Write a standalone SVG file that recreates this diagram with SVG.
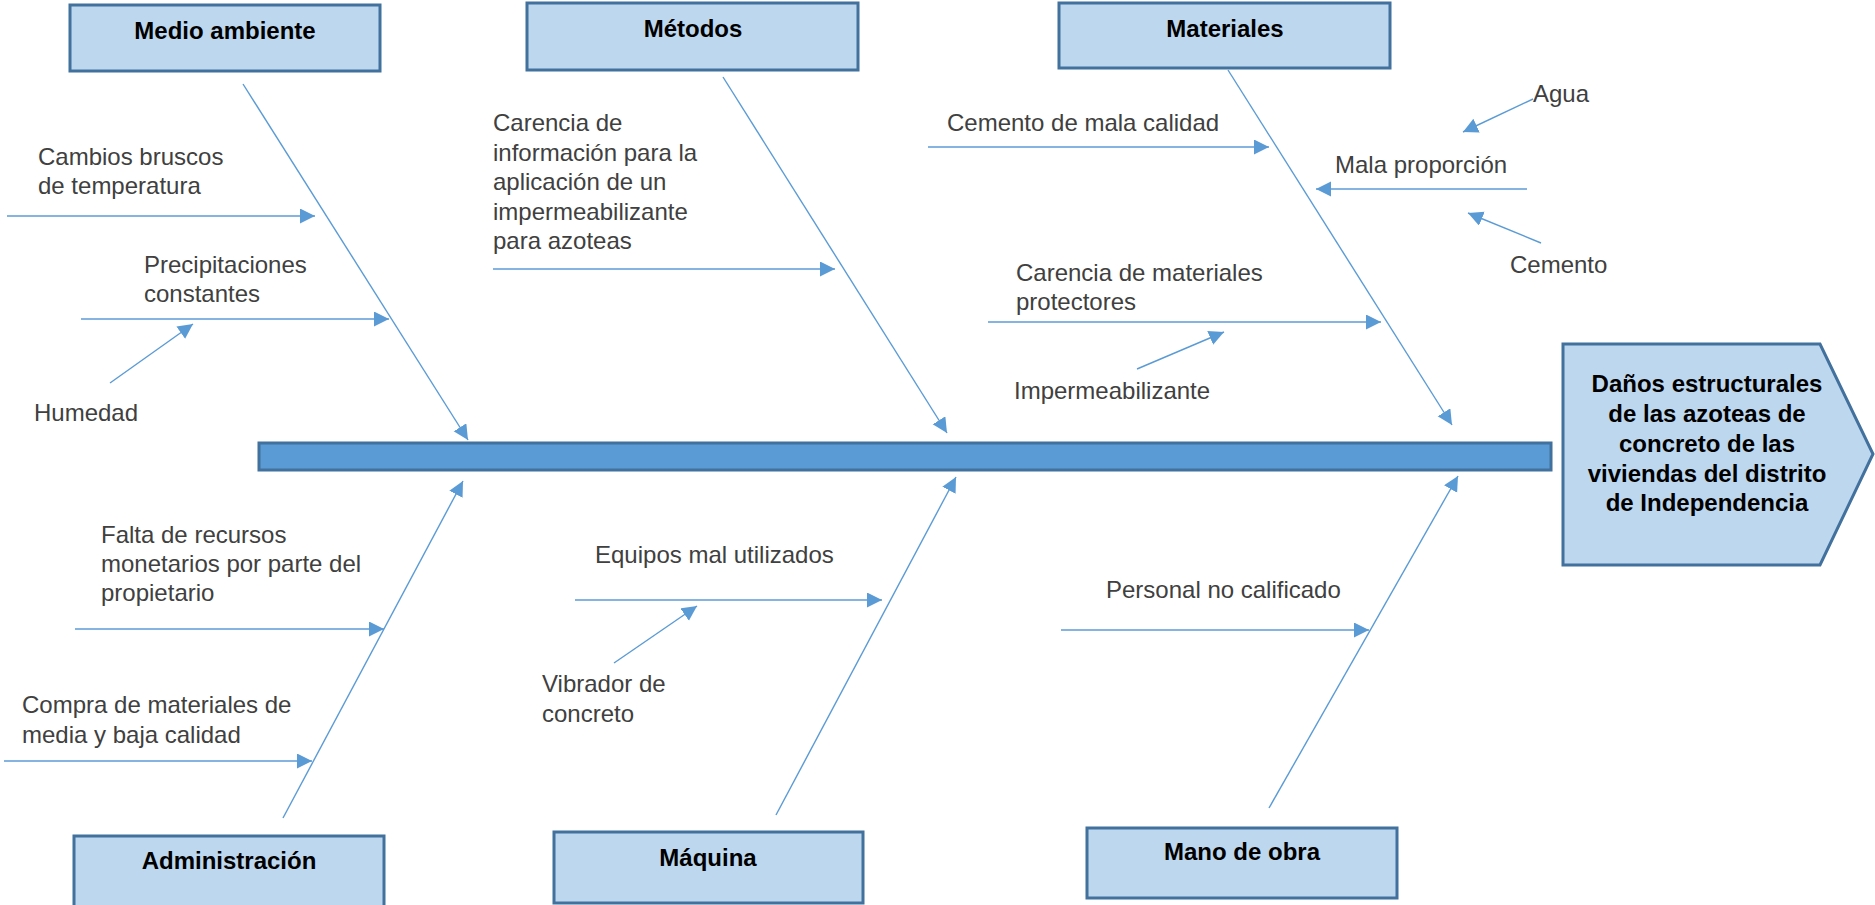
<svg xmlns="http://www.w3.org/2000/svg" width="1875" height="905" viewBox="0 0 1875 905">
<style>
.box{fill:#BDD7EE;stroke:#41719C;stroke-width:3}
.spine{fill:#5B9BD5;stroke:#41719C;stroke-width:3}
.title{font-family:"Liberation Sans",Arial,sans-serif;font-size:24px;font-weight:bold;fill:#000;text-anchor:middle}
.lbl{font-family:"Liberation Sans",Arial,sans-serif;font-size:24px;fill:#404040}
.con{stroke:#5B9BD5;stroke-width:1.4;fill:none;marker-end:url(#ah)}
</style>
<defs>
<marker id="ah" markerUnits="userSpaceOnUse" markerWidth="16" markerHeight="16" refX="15" refY="7.5" orient="auto">
<path d="M0,0 L15,7.5 L0,15 z" fill="#5B9BD5"/>
</marker>
</defs>
<rect width="1875" height="905" fill="#fff"/>
<g id="spine"><rect class="spine" x="259" y="443" width="1292" height="27"/></g>
<g id="effect">
<polygon class="box" points="1563,344 1820,344 1873,454 1820,565 1563,565"/>
<text class="title" x="1707" y="392">Daños estructurales</text>
<text class="title" x="1707" y="422">de las azoteas de</text>
<text class="title" x="1707" y="452">concreto de las</text>
<text class="title" x="1707" y="482">viviendas del distrito</text>
<text class="title" x="1707" y="511">de Independencia</text>
</g>
<g id="medio-ambiente"><rect class="box" x="70" y="5" width="310" height="66"/><text class="title" x="225" y="39">Medio ambiente</text></g>
<g id="metodos"><rect class="box" x="527" y="3" width="331" height="67"/><text class="title" x="693" y="37">Métodos</text></g>
<g id="materiales"><rect class="box" x="1059" y="3" width="331" height="65"/><text class="title" x="1225" y="37">Materiales</text></g>
<g id="administracion"><rect class="box" x="74" y="836" width="310" height="72"/><text class="title" x="229" y="869">Administración</text></g>
<g id="maquina"><rect class="box" x="554" y="832" width="309" height="71"/><text class="title" x="708" y="866">Máquina</text></g>
<g id="mano-de-obra"><rect class="box" x="1087" y="828" width="310" height="70"/><text class="title" x="1242" y="860">Mano de obra</text></g>
<g id="connectors">
<line class="con" x1="243" y1="84" x2="468" y2="440"/>
<line class="con" x1="723" y1="77" x2="947" y2="433"/>
<line class="con" x1="1228" y1="70" x2="1452" y2="425"/>
<line class="con" x1="283" y1="818" x2="463" y2="481"/>
<line class="con" x1="776" y1="815" x2="956" y2="477"/>
<line class="con" x1="1269" y1="808" x2="1458" y2="476"/>
<line class="con" x1="7" y1="216" x2="315" y2="216"/>
<line class="con" x1="81" y1="319" x2="389" y2="319"/>
<line class="con" x1="110" y1="383" x2="193" y2="324"/>
<line class="con" x1="493" y1="269" x2="835" y2="269"/>
<line class="con" x1="928" y1="147" x2="1269" y2="147"/>
<line class="con" x1="1527" y1="189" x2="1316" y2="189"/>
<line class="con" x1="1533" y1="99" x2="1463" y2="132"/>
<line class="con" x1="1541" y1="243" x2="1468" y2="213"/>
<line class="con" x1="988" y1="322" x2="1381" y2="322"/>
<line class="con" x1="1137" y1="369" x2="1224" y2="332"/>
<line class="con" x1="75" y1="629" x2="384" y2="629"/>
<line class="con" x1="4" y1="761" x2="312" y2="761"/>
<line class="con" x1="575" y1="600" x2="882" y2="600"/>
<line class="con" x1="614" y1="663" x2="697" y2="606"/>
<line class="con" x1="1061" y1="630" x2="1369" y2="630"/>
</g>
<g id="labels">
<text class="lbl" x="38" y="165">Cambios bruscos</text>
<text class="lbl" x="38" y="194">de temperatura</text>
<text class="lbl" x="144" y="273">Precipitaciones</text>
<text class="lbl" x="144" y="302">constantes</text>
<text class="lbl" x="34" y="421">Humedad</text>
<text class="lbl" x="493" y="131">Carencia de</text>
<text class="lbl" x="493" y="161">información para la</text>
<text class="lbl" x="493" y="190">aplicación de un</text>
<text class="lbl" x="493" y="220">impermeabilizante</text>
<text class="lbl" x="493" y="249">para azoteas</text>
<text class="lbl" x="947" y="131">Cemento de mala calidad</text>
<text class="lbl" x="1533" y="102">Agua</text>
<text class="lbl" x="1335" y="173">Mala proporción</text>
<text class="lbl" x="1510" y="273">Cemento</text>
<text class="lbl" x="1016" y="281">Carencia de materiales</text>
<text class="lbl" x="1016" y="310">protectores</text>
<text class="lbl" x="1014" y="399">Impermeabilizante</text>
<text class="lbl" x="101" y="543">Falta de recursos</text>
<text class="lbl" x="101" y="572">monetarios por parte del</text>
<text class="lbl" x="101" y="601">propietario</text>
<text class="lbl" x="22" y="713">Compra de materiales de</text>
<text class="lbl" x="22" y="743">media y baja calidad</text>
<text class="lbl" x="595" y="563">Equipos mal utilizados</text>
<text class="lbl" x="542" y="692">Vibrador de</text>
<text class="lbl" x="542" y="722">concreto</text>
<text class="lbl" x="1106" y="598">Personal no calificado</text>
</g>
</svg>
